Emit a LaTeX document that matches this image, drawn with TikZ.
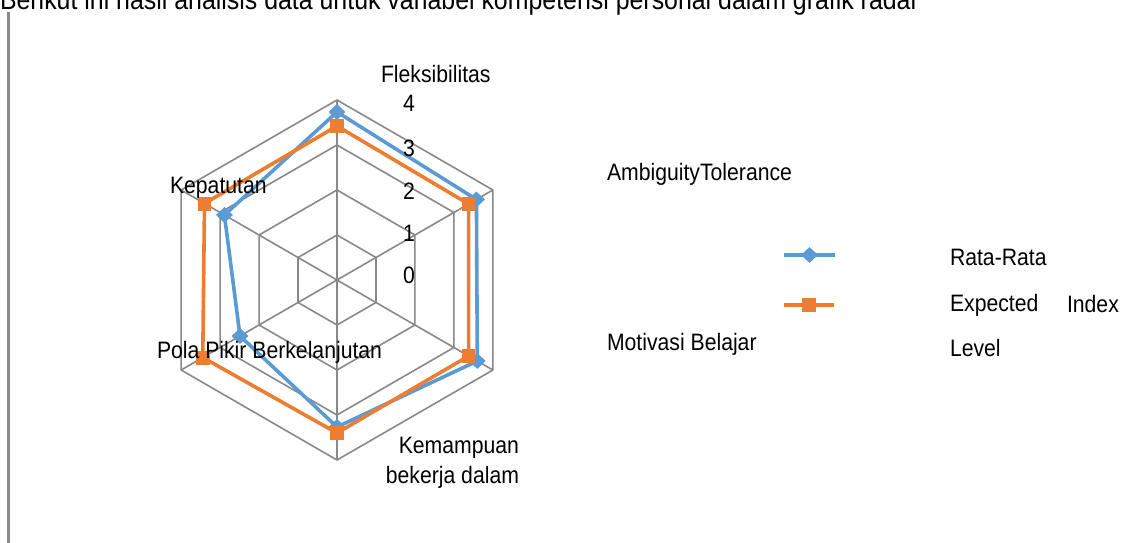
\documentclass[tikz,border=0pt]{standalone}
\usepackage{fontspec}
\setmainfont{Liberation Sans}
\usetikzlibrary{shapes.geometric,calc}
\definecolor{gridgray}{HTML}{898989}
\definecolor{serblue}{HTML}{5B9BD5}
\definecolor{serorange}{HTML}{ED7D31}
\newcommand{\vstr}[1]{\scalebox{1}[1.12]{#1}}
\begin{document}
\begin{tikzpicture}[x=1pt,y=1pt,
  lbl/.style={font=\fontsize{21.2}{25}\selectfont, inner sep=0pt, outer sep=0pt},
  gridline/.style={draw=gridgray, line width=1.6pt},
  blueline/.style={draw=serblue, line width=3.6pt, line join=round},
  orangeline/.style={draw=serorange, line width=3.6pt, line join=round},
  bluemark/.style={diamond, fill=serblue, minimum width=17pt, minimum height=16pt, inner sep=0pt},
  orangemark/.style={rectangle, fill=serorange, minimum width=13.5pt, minimum height=14pt, inner sep=0pt},
  ]
\useasboundingbox (0,-543) rectangle (1135,0);
\clip (0,-543) rectangle (1135,0);

% heading and left rule
\node[lbl, font=\fontsize{24.9}{29}\selectfont, anchor=base west] (title) at (0,-10) {\vstr{Berikut ini hasil analisis data untuk variabel kompetensi personal dalam grafik radar}};
\coordinate (ruletop) at (8.5,-12.5);
\coordinate (rulebot) at (8.5,-545);
\draw[draw=gridgray, line width=3pt] (ruletop) -- (rulebot);

% radar grid
\coordinate (c) at (337,-280);
\foreach \r in {45,90,135,180}
  \draw[gridline] ($(c)+(90:\r)$) \foreach \a in {30,-30,-90,-150,150} { -- ($(c)+(\a:\r)$) } -- cycle;
\foreach \a in {90,30,-30,-90,-150,150}
  \draw[gridline] (c) -- ($(c)+(\a:180)$);

% series coordinates
\coordinate (b1) at ($(c)+(90:168)$);
\coordinate (b2) at ($(c)+(30:161)$);
\coordinate (b3) at ($(c)+(-30:162)$);
\coordinate (b4) at ($(c)+(-90:147)$);
\coordinate (b5) at ($(c)+(-150:112)$);
\coordinate (b6) at ($(c)+(150:130)$);
\coordinate (o1) at ($(c)+(90:154)$);
\coordinate (o2) at ($(c)+(30:152)$);
\coordinate (o3) at ($(c)+(-30:152)$);
\coordinate (o4) at ($(c)+(-90:153)$);
\coordinate (o5) at ($(c)+(-150:155)$);
\coordinate (o6) at ($(c)+(150:153)$);

\draw[blueline] (b1) -- (b2) -- (b3) -- (b4) -- (b5) -- (b6) -- cycle;
\foreach \i in {1,...,6} \node[bluemark] (bm\i) at (b\i) {};
\draw[orangeline] (o1) -- (o2) -- (o3) -- (o4) -- (o5) -- (o6) -- cycle;
\foreach \i in {1,...,6} \node[orangemark] (om\i) at (o\i) {};

% axis value labels
\node[lbl] (v4) at (409,-103) {\vstr{4}};
\node[lbl] (v3) at (409,-148) {\vstr{3}};
\node[lbl] (v2) at (409,-191) {\vstr{2}};
\node[lbl] (v1) at (409,-233) {\vstr{1}};
\node[lbl] (v0) at (409,-275) {\vstr{0}};

% category labels
\node[lbl, anchor=base west] (fleks) at (381,-82) {\vstr{Fleksibilitas}};
\node[lbl, anchor=base west] (ambig) at (607,-180) {\vstr{AmbiguityTolerance}};
\node[lbl, anchor=base west] (motiv) at (607,-350) {\vstr{Motivasi Belajar}};
\node[lbl, anchor=base east] (kemA) at (519,-453) {\vstr{Kemampuan}};
\node[lbl, anchor=base east] (kemB) at (519,-483) {\vstr{bekerja dalam}};
\node[lbl, anchor=base west] (pola) at (157,-358) {\vstr{Pola Pikir Berkelanjutan}};
\node[lbl, anchor=base west] (kepat) at (170,-193) {\vstr{Kepatutan}};

% legend
\coordinate (lbA) at (784,-255);
\coordinate (lbB) at (835,-255);
\draw[draw=serblue, line width=3.6pt] (lbA) -- (lbB);
\node[bluemark] (lbm) at ($(lbA)!0.5!(lbB)$) {};
\coordinate (loA) at (784,-305);
\coordinate (loB) at (834,-305);
\draw[draw=serorange, line width=3.6pt] (loA) -- (loB);
\node[orangemark] (lom) at ($(loA)!0.5!(loB)$) {};
\node[lbl, anchor=base west] (rata) at (950,-265) {\vstr{Rata-Rata}};
\node[lbl, anchor=base west] (expe) at (950,-311) {\vstr{Expected}};
\node[lbl, anchor=base west] (idx) at (1067,-312) {\vstr{Index}};
\node[lbl, anchor=base west] (lev) at (950,-356) {\vstr{Level}};
\end{tikzpicture}
\end{document}
